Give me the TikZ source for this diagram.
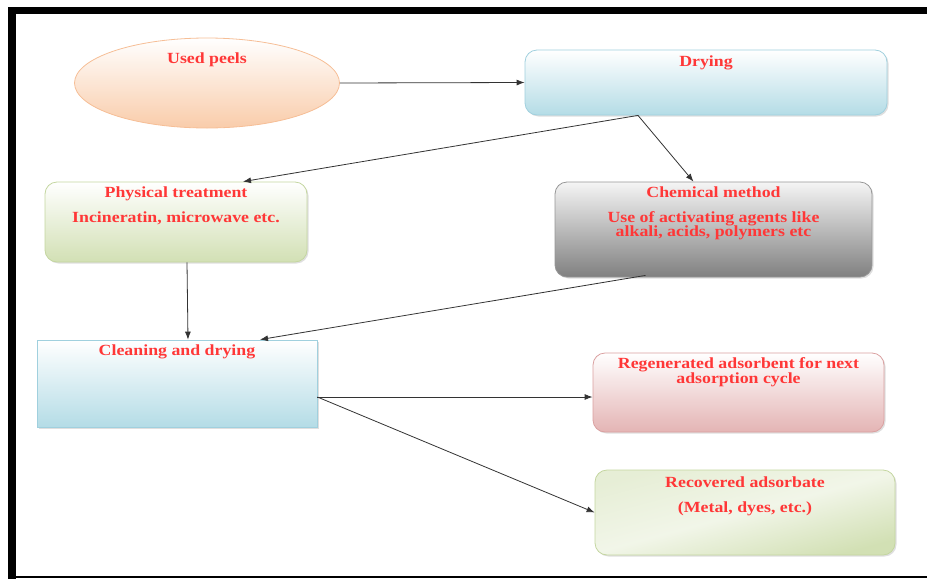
\documentclass[tikz,border=0pt]{standalone}
\usepackage{fontspec}
\setmainfont{Liberation Serif}[FakeStretch=1.15]
\usetikzlibrary{positioning,shapes.geometric,arrows.meta,shadows}

\definecolor{txtred}{RGB}{255,55,55}
\definecolor{peachfill}{RGB}{249,204,170}
\definecolor{peachline}{RGB}{246,190,150}
\definecolor{bluefill}{RGB}{180,220,230}
\definecolor{blueline}{RGB}{160,208,222}
\definecolor{greenfill}{RGB}{210,224,180}
\definecolor{greenline}{RGB}{196,214,160}
\definecolor{grayfill}{RGB}{128,128,128}
\definecolor{grayline}{RGB}{150,150,150}
\definecolor{pinkfill}{RGB}{228,180,180}
\definecolor{pinkline}{RGB}{218,160,160}

\begin{document}
\begin{tikzpicture}[
x = 1pt, y = -1pt,
box/.style={
  draw,
  rounded corners=12pt,
  inner sep=0pt,
  line width=0.8pt,
  drop shadow={shadow xshift=1.5pt,shadow yshift=-1.5pt,opacity=0.25,fill=gray}
  },
lbl/.style={
  anchor=north,
  inner sep=0pt,
  align=center,
  text=txtred,
  font=\bfseries\fontsize{15.5}{14.5}\selectfont
  },
link/.style={
  draw=black!80,
  line width=0.8pt,
  -{Latex[length=8pt,width=6pt]}
  }
]

% frame
\useasboundingbox (0,0) rectangle (927,579);
\fill[black] (8,7) rectangle (927,14);
\fill[black] (8,7) rectangle (16,579);
\draw[black, line width=1.5pt] (8,577) -- (927,577);

% stages
\node[ellipse, draw=peachline, line width=0.8pt, top color=white, bottom color=peachfill,
      minimum width=265pt, minimum height=90pt, inner sep=0pt] (used) at (207,83) {};
\node[box, draw=blueline, top color=white, bottom color=bluefill,
      minimum width=362pt, minimum height=65pt] (drying) at (706,82.5) {};
\node[box, draw=greenline, top color=white, bottom color=greenfill,
      minimum width=262pt, minimum height=80pt] (physical) at (176,222) {};
\node[box, draw=grayline, top color=black!4, bottom color=grayfill,
      minimum width=317pt, minimum height=95pt] (chemical) at (713.5,229.5) {};
\node[box, rounded corners=0pt, draw=blueline, top color=white, bottom color=bluefill,
      minimum width=280pt, minimum height=87pt] (cleaning) at (177,383.5) {};
\node[box, draw=pinkline, top color=white, bottom color=pinkfill,
      minimum width=291pt, minimum height=79pt] (regen) at (738.5,392.5) {};
\node[box, draw=greenline, top color=greenfill!55, bottom color=greenfill,
      middle color=greenfill!30, shading angle=15,
      minimum width=300pt, minimum height=85pt] (recovered) at (745,512.5) {};

% texts
\node[lbl] (usedtxt) at ([yshift=-15pt]used.north) {Used peels};
\node[lbl] (dryingtxt) at ([yshift=-6pt]drying.north) {Drying};
\node[lbl] (physicaltxt) at ([yshift=-5pt]physical.north)
  {Physical treatment\\[10pt] Incineratin, microwave etc.};
\node[lbl] (chemicaltxt) at ([yshift=-5pt]chemical.north)
  {Chemical method\\[10pt] Use of activating agents like\\ alkali, acids, polymers etc};
\node[lbl] (cleaningtxt) at ([yshift=-5pt]cleaning.north) {Cleaning and drying};
\node[lbl] (regentxt) at ([yshift=-5pt]regen.north)
  {Regenerated adsorbent for next\\ adsorption cycle};
\node[lbl] (recoveredtxt) at ([yshift=-7pt]recovered.north)
  {Recovered adsorbate\\[10pt] (Metal, dyes, etc.)};

% connectors
\coordinate (dryfork) at ([xshift=-68pt]drying.south);
\coordinate (chemout) at ([xshift=-68pt,yshift=2pt]chemical.south);
\coordinate (cleanout) at ([yshift=-13.5pt]cleaning.east);

\draw[link] (used.east) -- (drying.west);
\draw[link] (dryfork) -- ([xshift=67pt]physical.north);
\draw[link] (dryfork) -- ([xshift=-20pt]chemical.north);
\draw[link] ([xshift=11pt]physical.south) -- ([xshift=11pt]cleaning.north);
\draw[link] (chemout) -- ([xshift=83pt]cleaning.north);
\draw[link] (cleanout) -- (cleanout -| regen.west);
\draw[link] (cleanout) -- (recovered.west);

\end{tikzpicture}
\end{document}
